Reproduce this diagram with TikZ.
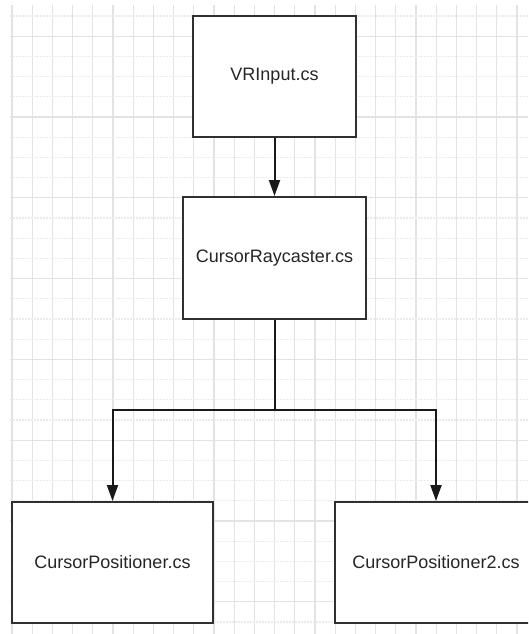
\documentclass[tikz,border=0pt]{standalone}
\usepackage{fontspec}
\setmainfont{Liberation Sans}
\usetikzlibrary{arrows.meta}
\definecolor{boxline}{HTML}{303030}
\definecolor{gridsolid}{HTML}{E3E3E3}
\definecolor{griddot}{HTML}{EBEBEB}
\tikzset{
  filebox/.style={draw=boxline, line width=2pt, fill=white, minimum width=#1, inner sep=0pt,
    font=\fontsize{18}{20}\selectfont, text=black!85},
  conn/.style={draw=black!90, line width=2pt, -{Triangle[length=16pt,width=11pt]}},
  gridv/.style={draw=gridsolid, line width=1.3pt},
  gridh/.style={draw=gridsolid, line width=1.3pt},
  gridd/.style={draw=griddot, line width=1.3pt, dash pattern=on 2pt off 1pt}
}
\begin{document}
\begin{tikzpicture}[x=1pt, y=-1pt]
\useasboundingbox (0,0) rectangle (528,634);
\clip (0,0) rectangle (528,634);
% grid
\foreach \k in {0,...,25} {
  \draw[gridv] ({12+20.2*\k},5) -- ({12+20.2*\k},634);
}
\foreach \k in {0,...,30} {
  \pgfmathtruncatemacro{\m}{mod(\k,4)}
  \ifnum\m=1
    \draw[gridh] (10,{16+20.2*\k}) -- (528,{16+20.2*\k});
  \else
    \draw[gridd] (10,{16+20.2*\k}) -- (528,{16+20.2*\k});
  \fi
}
% boxes
\node[filebox=163pt, minimum height=121pt] (vr) at (274.5,76.5) {VRInput.cs};
\node[filebox=183pt, minimum height=122pt] (rc) at (274.5,258) {CursorRaycaster.cs};
\node[filebox=201pt, minimum height=121pt] (p1) at (112.5,562.5) {CursorPositioner.cs};
\node[filebox=202pt, minimum height=121pt] (p2) at (436,562.5) {CursorPositioner2.cs};
% connectors
\coordinate (split) at (274.5,410);
\draw[conn] (vr) -- (rc);
\draw[draw=black!90, line width=2pt] (rc.south) -- (split);
\draw[conn] (split) -| (p1.north);
\draw[conn] (split) -| (p2.north);
\end{tikzpicture}
\end{document}
